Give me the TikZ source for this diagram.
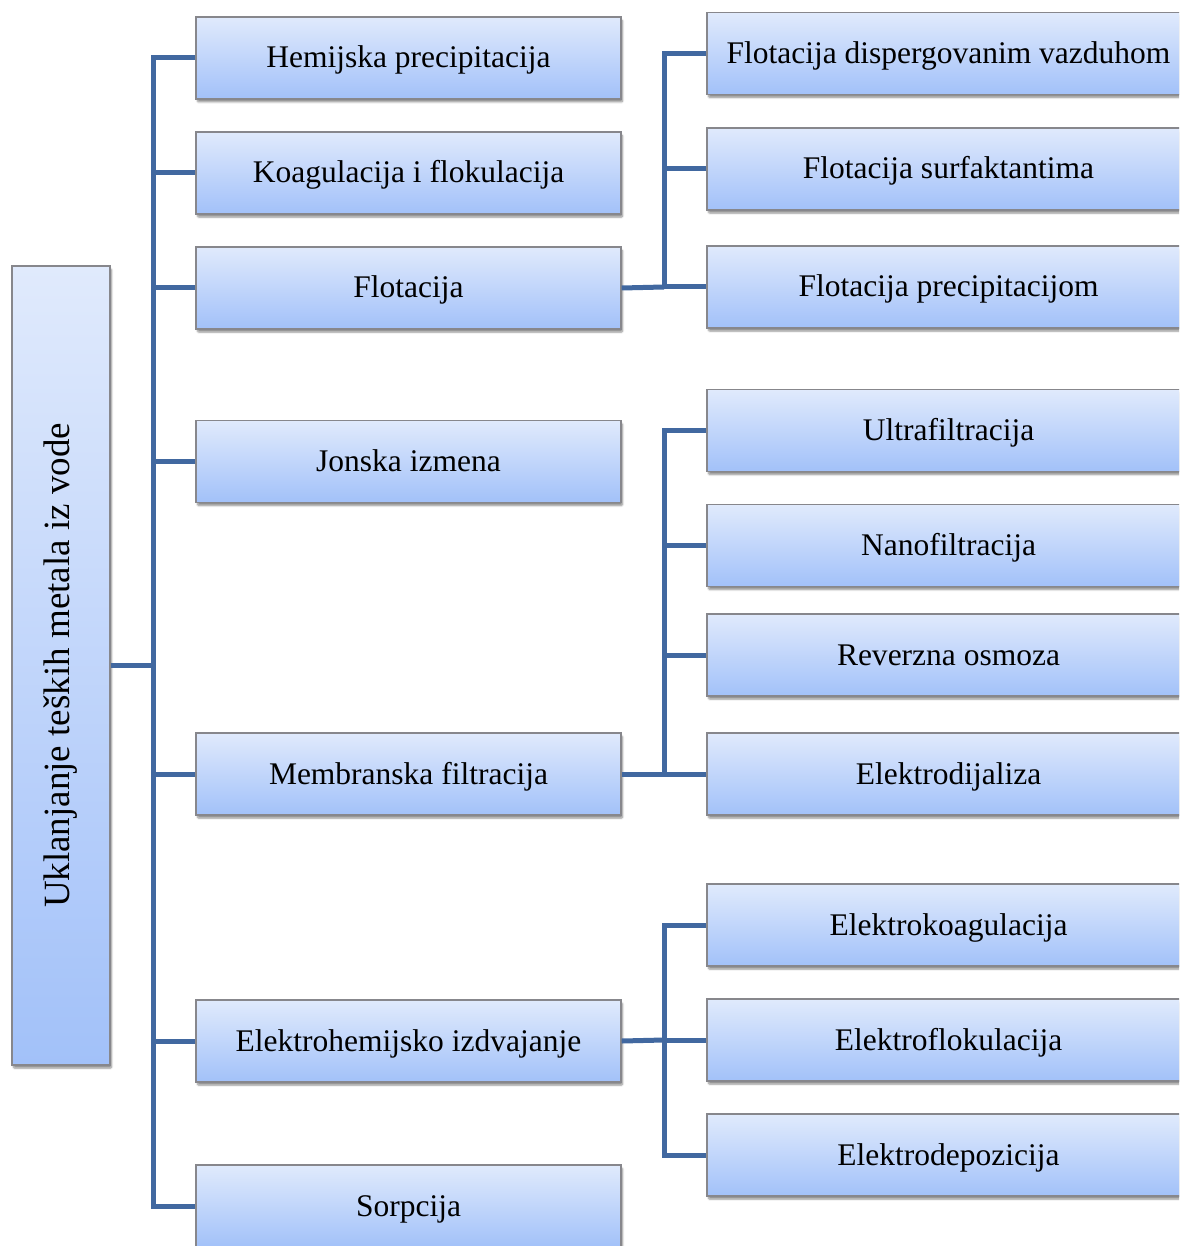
\documentclass[tikz,border=0pt]{standalone}
\usepackage{fontspec}
\setmainfont{Liberation Serif}
\usetikzlibrary{shadows.blur}
\definecolor{boxtop}{RGB}{224,234,252}
\definecolor{boxbot}{RGB}{162,193,249}
\definecolor{boxedge}{RGB}{135,135,140}
\definecolor{linkblue}{RGB}{65,104,160}
\tikzset{
  box/.style={draw=boxedge, line width=1.4pt, top color=boxtop, bottom color=boxbot,
    inner sep=0pt, align=center, font=\fontsize{31.5}{36}\selectfont,
    blur shadow={shadow xshift=1.5pt, shadow yshift=-3pt, shadow opacity=45, shadow blur steps=6, shadow blur extra rounding=1pt}},
  midbox/.style={box, minimum width=425pt, minimum height=82pt, text height=26pt, text depth=6pt},
  subbox/.style={box, minimum width=483pt, minimum height=82pt, text height=26pt, text depth=6pt},
  link/.style={draw=linkblue, line width=5pt, line join=miter}
}
\begin{document}
\begin{tikzpicture}[x=1pt, y=-1pt]
  \useasboundingbox (0,0) rectangle (1179,1246);
  \clip (0,0) rectangle (1179,1246);

  % root of the tree
  \node[box, minimum width=98pt, minimum height=799pt] (root) at (61,665.5) {};
  \node[rotate=90, font=\fontsize{37}{42}\selectfont, inner sep=0pt] (rootlabel) at (root.center) {Uklanjanje teških metala iz vode};

  % first level methods
  \node[midbox] (hem) at (408.5,58)   {Hemijska precipitacija};
  \node[midbox] (koa) at (408.5,173)  {Koagulacija i flokulacija};
  \node[midbox] (flo) at (408.5,288)  {Flotacija};
  \node[midbox] (jon) at (408.5,461.5){Jonska izmena};
  \node[midbox] (mem) at (408.5,774)  {Membranska filtracija};
  \node[midbox] (ele) at (408.5,1041) {Elektrohemijsko izdvajanje};
  \node[midbox] (sor) at (408.5,1206) {Sorpcija};

  % second level: flotation
  \node[subbox] (f1) at (948.5,53.5) {Flotacija dispergovanim vazduhom};
  \node[subbox] (f2) at (948.5,169)  {Flotacija surfaktantima};
  \node[subbox] (f3) at (948.5,287)  {Flotacija precipitacijom};
  % second level: membranes
  \node[subbox] (m1) at (948.5,430.5) {Ultrafiltracija};
  \node[subbox] (m2) at (948.5,545.5) {Nanofiltracija};
  \node[subbox] (m3) at (948.5,655)   {Reverzna osmoza};
  \node[subbox] (m4) at (948.5,774)   {Elektrodijaliza};
  % second level: electrochemistry
  \node[subbox] (e1) at (948.5,925)  {Elektrokoagulacija};
  \node[subbox] (e2) at (948.5,1040) {Elektroflokulacija};
  \node[subbox] (e3) at (948.5,1155) {Elektrodepozicija};

  % trunk joints
  \coordinate (trunk) at (153,665.5);
  \coordinate (fj) at (664,287);
  \coordinate (mj) at (664,774);
  \coordinate (ej) at (664,1040);

  % connectors
  \path[link] (root.east) -- (trunk);
  \path[link] (hem.west) -| (trunk) |- (sor.west);
  \foreach \n in {koa,flo,jon,mem,ele} \path[link] (\n.west) -- (\n.west -| trunk);

  \path[link] (flo.east) -- (fj);
  \path[link] (f1.west) -| (fj) |- (f3.west);
  \path[link] (f2.west) -- (f2.west -| fj);

  \path[link] (mem.east) -- (mj);
  \path[link] (m1.west) -| (mj) |- (m4.west);
  \foreach \n in {m2,m3} \path[link] (\n.west) -- (\n.west -| mj);

  \path[link] (ele.east) -- (ej);
  \path[link] (e1.west) -| (ej) |- (e3.west);
  \path[link] (e2.west) -- (e2.west -| ej);
\end{tikzpicture}
\end{document}
